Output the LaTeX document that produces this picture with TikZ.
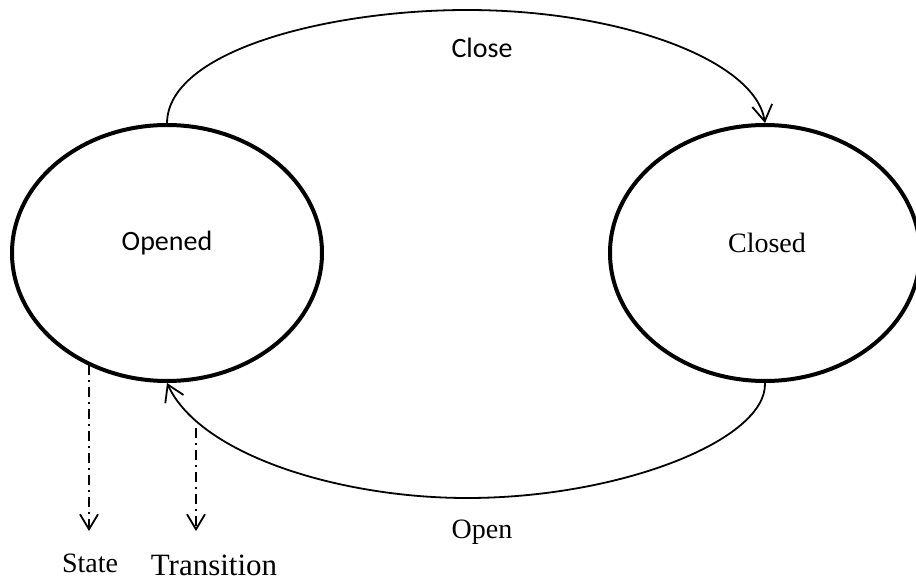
\documentclass[tikz,border=0pt]{standalone}
\usepackage{fontspec}
\setmainfont{Liberation Serif}
\newfontfamily\calib{Carlito}
\usetikzlibrary{shapes.geometric,arrows.meta}
\tikzset{
  statenode/.style={ellipse, draw, line width=4pt, minimum width=310pt, minimum height=256pt, inner sep=0pt},
  arc/.style={line width=1.8pt, -{Straight Barb[length=16pt,width=20pt,line width=1.8pt]}},
  legend/.style={line width=1.8pt, dash pattern=on 10pt off 5pt on 2pt off 5pt, -{Straight Barb[length=15pt,width=18pt,line width=1.8pt]}},
  sanslbl/.style={font=\calib\fontsize{28}{30}\selectfont, inner sep=0pt},
  seriflbl/.style={font=\fontsize{28}{30}\selectfont, inner sep=0pt}
}
\begin{document}
\begin{tikzpicture}[x=1pt,y=-1pt]
\useasboundingbox (0,0) rectangle (916,583);
\node[statenode] (opened) at (167,253) {};
\node[statenode] (closed) at (765,253) {};
\node[sanslbl] (openedlbl) at (167,243) {Opened};
\node[seriflbl] (closedlbl) at (767,243) {Closed};
\node[sanslbl] (closelbl) at (482,48) {Close};
\node[seriflbl] (openlbl) at (482,532) {Open};
\draw[arc] (opened.north) .. controls (168,50) and (330,10) .. (467,10)
  .. controls (620,10) and (755,60) .. (closed.north);
\draw[arc] (closed.south) .. controls (767,440) and (620,498) .. (467,498)
  .. controls (340,498) and (200,455) .. (opened.south);
\coordinate (sfrom) at (89,365);
\coordinate (sto) at (89,531);
\coordinate (tfrom) at (196,428);
\coordinate (tto) at (196,531);
\draw[legend] (sfrom) -- (sto);
\draw[legend] (tfrom) -- (tto);
\node[seriflbl] (statelbl) at (90,563) {State};
\node[font=\fontsize{31}{33}\selectfont, inner sep=0pt] (translbl) at (214,565) {Transition};
\end{tikzpicture}
\end{document}
